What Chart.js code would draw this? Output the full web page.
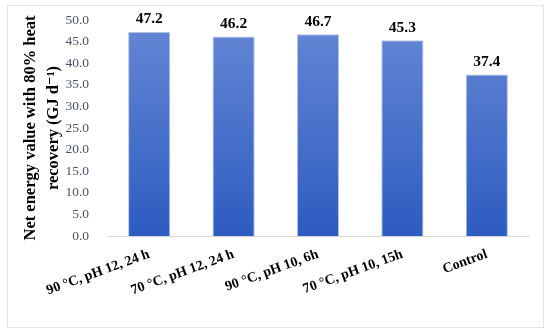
<!DOCTYPE html>
<html>
<head>
<meta charset="utf-8">
<script src="https://cdn.jsdelivr.net/npm/chart.js@4"></script>
<style>
html,body{margin:0;padding:0;background:#fff;}
#wrap{width:550px;height:335px;position:relative;}
</style>
</head>
<body>
<div id="wrap"><canvas id="c" width="550" height="335"></canvas></div>
<script>
const categories = ["90 °C, pH 12, 24 h", "70 °C, pH 12, 24 h", "90 °C, pH 10, 6h", "70 °C, pH 10, 15h", "Control"];
const netEnergy = [47.2, 46.2, 46.7, 45.3, 37.4];
const yTitle = ["Net energy value with 80% heat", "recovery (GJ d\u207B\u00B9)"];

const serif = "'Liberation Serif', 'DejaVu Serif', serif";

const frame = {
  id: 'frame',
  beforeDraw(chart) {
    const ctx = chart.ctx;
    ctx.save();
    ctx.fillStyle = '#fff';
    ctx.fillRect(0, 0, chart.width, chart.height);
    ctx.strokeStyle = '#e4e4e4';
    ctx.lineWidth = 1;
    ctx.strokeRect(7.5, 5.5, 536, 322);
    ctx.restore();
  }
};

const valueLabels = {
  id: 'valueLabels',
  afterDatasetsDraw(chart) {
    const ctx = chart.ctx;
    const meta = chart.getDatasetMeta(0);
    ctx.save();
    ctx.font = "bold 15.5px " + serif;
    ctx.fillStyle = '#000';
    ctx.textAlign = 'center';
    ctx.textBaseline = 'bottom';
    meta.data.forEach((bar, i) => {
      ctx.fillText(netEnergy[i].toFixed(1), bar.x, bar.y - 5);
    });
    ctx.restore();
  }
};

new Chart(document.getElementById('c'), {
  type: 'bar',
  data: {
    labels: categories,
    datasets: [{
      data: netEnergy,
      backgroundColor(ctx) {
        const area = ctx.chart.chartArea;
        if (!area) return '#4472c4';
        const g = ctx.chart.ctx.createLinearGradient(0, area.top, 0, area.bottom);
        g.addColorStop(0, '#6587d5');
        g.addColorStop(1, '#2d5cc0');
        return g;
      },
      borderColor: 'rgba(40,80,170,0.35)',
      borderWidth: 1,
      categoryPercentage: 1,
      barPercentage: 0.5
    }]
  },
  options: {
    responsive: false,
    animation: false,
    devicePixelRatio: 1,
    layout: { padding: { left: 20, right: 21, top: 20, bottom: 0 } },
    plugins: { legend: { display: false }, tooltip: { enabled: false } },
    scales: {
      x: {
        grid: { display: true, drawOnChartArea: false, drawTicks: false, color: 'rgba(0,0,0,0)' },
        border: { display: true, color: '#d9d9d9', width: 1 },
        ticks: {
          minRotation: 20, maxRotation: 20, padding: 10,
          color: '#000',
          font: { family: serif, size: 14, weight: 'bold' }
        },
        afterFit(s) { s.height = 99; }
      },
      y: {
        min: 0, max: 50,
        grid: { display: false },
        border: { display: false },
        ticks: {
          stepSize: 5, padding: 10,
          color: '#4a5268',
          font: { family: serif, size: 13.5 },
          callback: v => Number(v).toFixed(1)
        },
        title: {
          display: true,
          text: yTitle,
          color: '#000',
          font: { family: serif, size: 16.5, weight: 'bold', lineHeight: 1.35 },
          padding: { top: 0, bottom: 0 }
        },
        afterFit(s) { s.width = 87; }
      }
    }
  },
  plugins: [frame, valueLabels]
});
</script>
</body>
</html>
